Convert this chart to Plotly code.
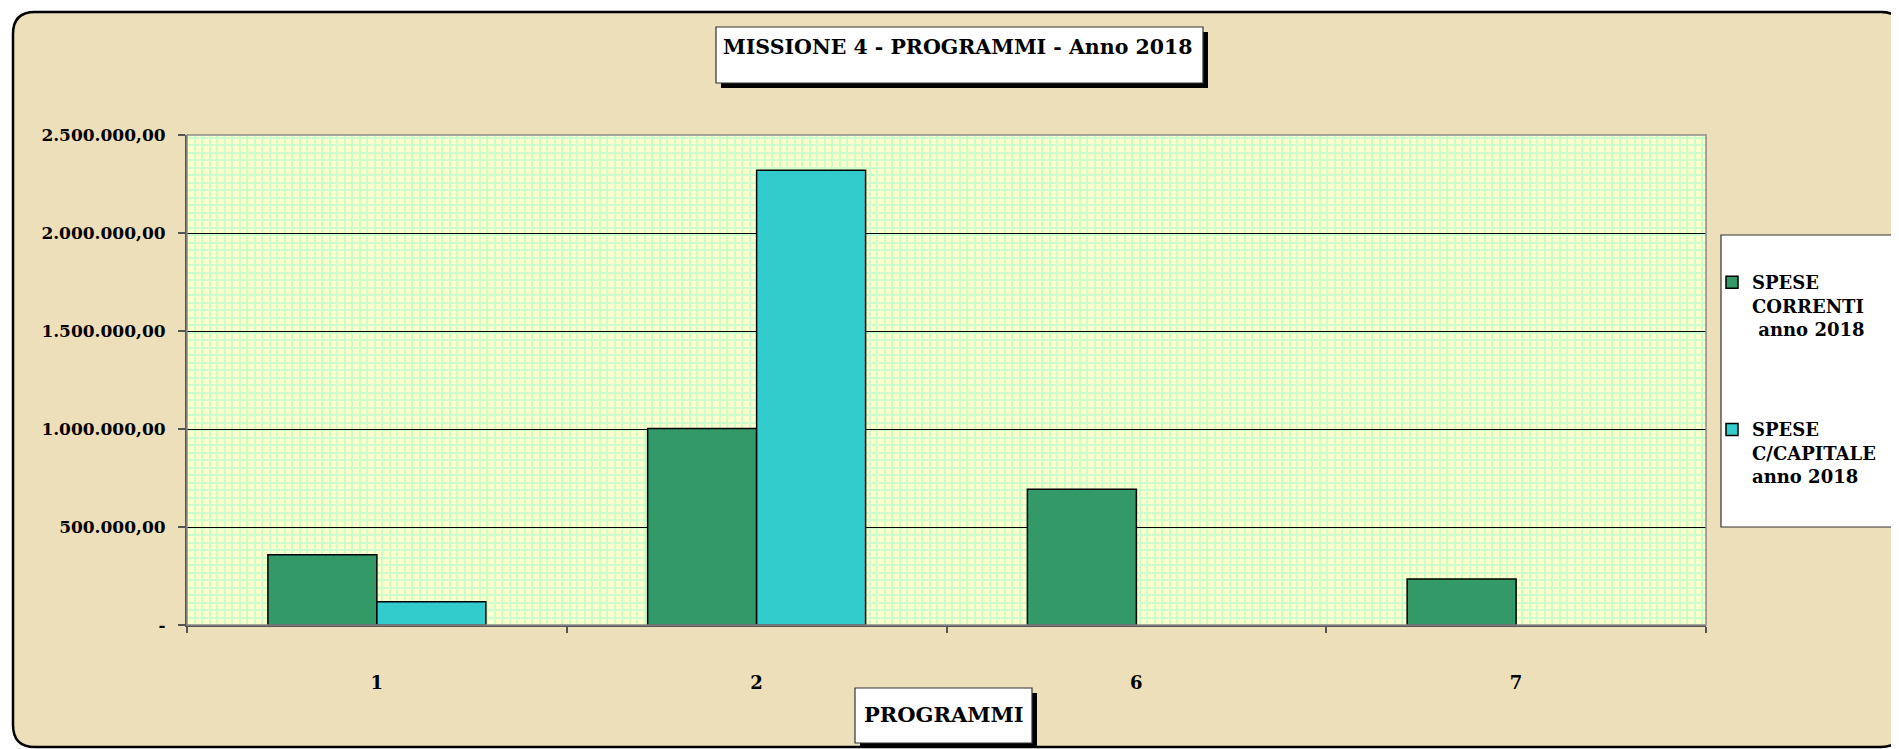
import plotly.graph_objects as go

# ---------------- data ----------------
categories = ["1", "2", "6", "7"]
spese_correnti = [358000, 1003000, 692000, 235000]
spese_capitale = [118000, 2320000, 0, 0]
series_names = ["SPESE<br>CORRENTI<br>\u00a0anno 2018", "SPESE<br>C/CAPITALE<br>anno 2018"]
y_tickvals = [0, 500000, 1000000, 1500000, 2000000, 2500000]
y_ticktext = ["-", "500.000,00", "1.000.000,00", "1.500.000,00", "2.000.000,00", "2.500.000,00"]
title_text = "MISSIONE 4 - PROGRAMMI - Anno 2018"
xaxis_title = "PROGRAMMI"

# ---------------- layout geometry (page pixels) ----------------
OFF = 8                      # page body margin
W, H = 1899 - OFF, 749 - OFF
L, R, T, B = 187, 1706, 135, 625   # plot area in page pixels
PW, PH = R - L, B - T

def px(x):
    return (x - L) / PW

def py(y):
    return (B - y) / PH

FONT = "DejaVu Serif"
BEIGE = "#EEDFBB"
GREEN = "#339966"
CYAN = "#33CCCC"

fig = go.Figure()

# invisible helper so that the fine-grid base subplot is rendered
fig.add_trace(go.Scatter(x=[0], y=[0], mode="markers", marker=dict(opacity=0),
                         showlegend=False, hoverinfo="skip", xaxis="x", yaxis="y"))

fig.add_trace(go.Bar(
    x=categories, y=spese_correnti, name=series_names[0],
    marker=dict(color=GREEN, line=dict(color="black",
                                       width=[1.5 if v else 0 for v in spese_correnti])),
    xaxis="x2", yaxis="y2", legendgroup="a",
))
fig.add_trace(go.Bar(
    x=categories, y=spese_capitale, name=series_names[1],
    marker=dict(color=CYAN, line=dict(color="black",
                                      width=[1.5 if v else 0 for v in spese_capitale])),
    xaxis="x2", yaxis="y2", legendgroup="b",
))

shapes = []
x0, y0, x1, y1, r = 13, 12, 1903, 747, 22

def rr_path(x0, y0, x1, y1, r):
    s = f"M {px(x0 + r)},{py(y0)} L {px(x1 - r)},{py(y0)} "
    s += f"Q {px(x1)},{py(y0)} {px(x1)},{py(y0 + r)} "
    s += f"L {px(x1)},{py(y1 - r)} Q {px(x1)},{py(y1)} {px(x1 - r)},{py(y1)} "
    s += f"L {px(x0 + r)},{py(y1)} Q {px(x0)},{py(y1)} {px(x0)},{py(y1 - r)} "
    s += f"L {px(x0)},{py(y0 + r)} Q {px(x0)},{py(y0)} {px(x0 + r)},{py(y0)} Z"
    return s

outer = (f"M {px(-50)},{py(-50)} L {px(1999)},{py(-50)} "
         f"L {px(1999)},{py(849)} L {px(-50)},{py(849)} Z ")
shapes.append(dict(type="path", xref="paper", yref="paper",
                   path=outer + rr_path(x0, y0, x1, y1, r),
                   fillcolor="white", fillrule="evenodd", line=dict(width=0), layer="above"))
shapes.append(dict(type="path", xref="paper", yref="paper",
                   path=rr_path(x0, y0, x1, y1, r),
                   line=dict(color="black", width=2.5), layer="above"))

# plot area border (gray)
shapes.append(dict(type="rect", xref="paper", yref="paper", x0=0, y0=0, x1=1, y1=1,
                   line=dict(color="#8a8a8a", width=1.5), layer="above"))

def boxed(bx0, by0, bx1, by1, off=5):
    return [
        dict(type="rect", xref="paper", yref="paper",
             x0=px(bx0 + off), x1=px(bx1 + off), y0=py(by0 + off), y1=py(by1 + off),
             fillcolor="black", line=dict(width=0), layer="above"),
        dict(type="rect", xref="paper", yref="paper",
             x0=px(bx0), x1=px(bx1), y0=py(by0), y1=py(by1),
             fillcolor="white", line=dict(color="#333333", width=1.2), layer="above"),
    ]

shapes += boxed(716, 27, 1203, 83)      # title box
shapes += boxed(855, 688, 1032, 743)    # x-axis title box
# legend box
shapes.append(dict(type="rect", xref="paper", yref="paper",
                   x0=px(1721), x1=px(1960), y0=py(235), y1=py(527),
                   fillcolor="white", line=dict(color="#333333", width=1.2), layer="above"))

annotations = [
    dict(text=title_text, xref="paper", yref="paper", x=px(721), y=py(47),
         xanchor="left", yanchor="middle", showarrow=False,
         font=dict(family=FONT, size=20.5, color="black", weight="bold")),
    dict(text=xaxis_title, xref="paper", yref="paper", x=px(944), y=py(714),
         xanchor="center", yanchor="middle", showarrow=False,
         font=dict(family=FONT, size=21, color="black", weight="bold")),
]

fig.update_layout(
    width=W, height=H,
    margin=dict(l=L - OFF, r=W - (R - OFF), t=T - OFF, b=H - (B - OFF), autoexpand=False),
    paper_bgcolor=BEIGE,
    plot_bgcolor="#FFFFCC",
    barmode="group",
    bargap=0.426,
    bargroupgap=0,
    showlegend=True,
    legend=dict(
        x=px(1712), y=py(264), xanchor="left", yanchor="top",
        bgcolor="rgba(0,0,0,0)", borderwidth=0,
        font=dict(family=FONT, size=18, color="black", weight="bold"),
        traceorder="grouped", tracegroupgap=74, valign="top", itemwidth=30,
    ),
    xaxis=dict(range=[0, PW], dtick=7.5, tick0=0, showgrid=True,
               gridcolor="#CCFFCC", gridwidth=2, showticklabels=False,
               zeroline=False, showline=False, ticks="", fixedrange=True),
    yaxis=dict(range=[0, PH], dtick=7.5, tick0=0, showgrid=True,
               gridcolor="#CCFFCC", gridwidth=2, showticklabels=False,
               zeroline=False, showline=False, ticks="", fixedrange=True),
    xaxis2=dict(overlaying="x", anchor="y2", side="bottom", type="category",
                categoryorder="array", categoryarray=categories,
                showgrid=False, zeroline=False,
                showline=True, linecolor="#555555", linewidth=2,
                ticks="outside", tickson="boundaries", ticklen=6, tickcolor="#555555",
                tickwidth=1.5, ticklabelstandoff=40,
                tickfont=dict(family=FONT, size=18, color="black", weight="bold")),
    yaxis2=dict(overlaying="y", anchor="x2", side="left", range=[0, 2500000],
                tickvals=y_tickvals, ticktext=y_ticktext,
                showgrid=True, gridcolor="black", gridwidth=1, zeroline=False,
                showline=True, linecolor="#555555", linewidth=2,
                ticks="outside", ticklen=7, tickcolor="#555555", tickwidth=1.5,
                ticklabelstandoff=9,
                tickfont=dict(family=FONT, size=17, color="black", weight="bold")),
    shapes=shapes,
    annotations=annotations,
)

fig.write_html("out.html")
